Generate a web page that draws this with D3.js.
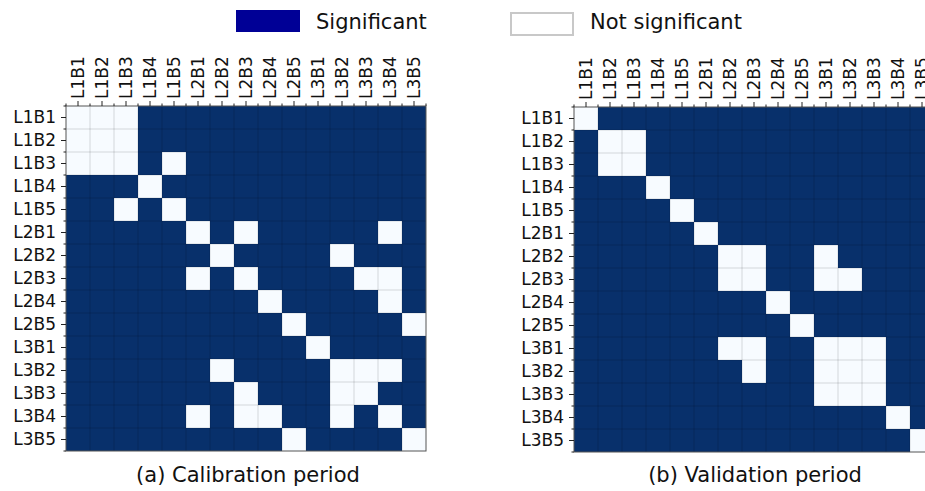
<!DOCTYPE html>
<html>
<head>
<meta charset="utf-8">
<script src="https://cdn.jsdelivr.net/npm/d3@7"></script>
<style>
  body { margin: 0; background: #fff; }
  svg text { font-family: "DejaVu Sans", sans-serif; fill: #111; }
</style>
</head>
<body>
<div class="chart"></div>
<script>
/* Basin labels, same order for rows and columns */
const labels = ["L1B1", "L1B2", "L1B3", "L1B4", "L1B5",
                "L2B1", "L2B2", "L2B3", "L2B4", "L2B5",
                "L3B1", "L3B2", "L3B3", "L3B4", "L3B5"];

/* 1 = significant, 0 = not significant (one row per label) */
const calibration = [
  [0,0,0,1,1,1,1,1,1,1,1,1,1,1,1],
  [0,0,0,1,1,1,1,1,1,1,1,1,1,1,1],
  [0,0,0,1,0,1,1,1,1,1,1,1,1,1,1],
  [1,1,1,0,1,1,1,1,1,1,1,1,1,1,1],
  [1,1,0,1,0,1,1,1,1,1,1,1,1,1,1],
  [1,1,1,1,1,0,1,0,1,1,1,1,1,0,1],
  [1,1,1,1,1,1,0,1,1,1,1,0,1,1,1],
  [1,1,1,1,1,0,1,0,1,1,1,1,0,0,1],
  [1,1,1,1,1,1,1,1,0,1,1,1,1,0,1],
  [1,1,1,1,1,1,1,1,1,0,1,1,1,1,0],
  [1,1,1,1,1,1,1,1,1,1,0,1,1,1,1],
  [1,1,1,1,1,1,0,1,1,1,1,0,0,0,1],
  [1,1,1,1,1,1,1,0,1,1,1,0,0,1,1],
  [1,1,1,1,1,0,1,0,0,1,1,0,1,0,1],
  [1,1,1,1,1,1,1,1,1,0,1,1,1,1,0]
];

const validation = [
  [0,1,1,1,1,1,1,1,1,1,1,1,1,1,1],
  [1,0,0,1,1,1,1,1,1,1,1,1,1,1,1],
  [1,0,0,1,1,1,1,1,1,1,1,1,1,1,1],
  [1,1,1,0,1,1,1,1,1,1,1,1,1,1,1],
  [1,1,1,1,0,1,1,1,1,1,1,1,1,1,1],
  [1,1,1,1,1,0,1,1,1,1,1,1,1,1,1],
  [1,1,1,1,1,1,0,0,1,1,0,1,1,1,1],
  [1,1,1,1,1,1,0,0,1,1,0,0,1,1,1],
  [1,1,1,1,1,1,1,1,0,1,1,1,1,1,1],
  [1,1,1,1,1,1,1,1,1,0,1,1,1,1,1],
  [1,1,1,1,1,1,0,0,1,1,0,0,0,1,1],
  [1,1,1,1,1,1,1,0,1,1,0,0,0,1,1],
  [1,1,1,1,1,1,1,1,1,1,0,0,0,1,1],
  [1,1,1,1,1,1,1,1,1,1,1,1,1,0,1],
  [1,1,1,1,1,1,1,1,1,1,1,1,1,1,0]
];

const captions = ["(a) Calibration period", "(b) Validation period"];
const legendItems = ["Significant", "Not significant"];

const w = 925, h = 491;
const darkBlue = "#08306b", paleBlue = "#f7fbff";
const tickFont = 17;

const svg = d3.select(".chart").append("svg")
  .attr("width", w).attr("height", h);

/* Legend */
const legend = svg.append("g");
legend.append("rect").attr("x", 236).attr("y", 10).attr("width", 64).attr("height", 22)
  .attr("fill", "#000096");
legend.append("text").attr("x", 316).attr("y", 29).attr("font-size", 21).text(legendItems[0]);
legend.append("rect").attr("x", 511).attr("y", 13).attr("width", 62).attr("height", 22)
  .attr("fill", "#fff").attr("stroke", "#c8c8c8").attr("stroke-width", 2);
legend.append("text").attr("x", 590).attr("y", 29).attr("font-size", 21).text(legendItems[1]);

/* One heatmap panel */
function drawPanel(matrix, left, top, caption, captionX) {
  const cellW = 24, cellH = 23;
  const x = d3.scaleBand().domain(labels).range([left, left + cellW * labels.length]);
  const y = d3.scaleBand().domain(labels).range([top, top + cellH * labels.length]);
  const g = svg.append("g");

  const cells = [];
  matrix.forEach((row, i) => row.forEach((v, j) => cells.push({r: labels[i], c: labels[j], v: v})));

  g.selectAll("rect.cell").data(cells).enter().append("rect")
    .attr("class", "cell")
    .attr("x", d => x(d.c)).attr("y", d => y(d.r))
    .attr("width", x.bandwidth()).attr("height", y.bandwidth())
    .attr("fill", d => d.v ? darkBlue : paleBlue);

  /* grid on cell boundaries */
  const bounds = d3.range(1, labels.length);
  g.selectAll("line.vgrid").data(bounds).enter().append("line")
    .attr("x1", k => left + k * cellW).attr("x2", k => left + k * cellW)
    .attr("y1", top).attr("y2", y.range()[1])
    .attr("stroke", "#000").attr("stroke-opacity", 0.14).attr("stroke-width", 1);
  g.selectAll("line.hgrid").data(bounds).enter().append("line")
    .attr("y1", k => top + k * cellH).attr("y2", k => top + k * cellH)
    .attr("x1", left).attr("x2", x.range()[1])
    .attr("stroke", "#000").attr("stroke-opacity", 0.14).attr("stroke-width", 1);

  /* frame */
  g.append("rect").attr("x", left).attr("y", top)
    .attr("width", x.range()[1] - left).attr("height", y.range()[1] - top)
    .attr("fill", "none").attr("stroke", "#555").attr("stroke-width", 1);

  /* minor ticks at boundaries */
  const allB = d3.range(0, labels.length + 1);
  g.selectAll("line.mtx").data(allB).enter().append("line")
    .attr("x1", k => left + k * cellW).attr("x2", k => left + k * cellW)
    .attr("y1", top).attr("y2", top - 2.5).attr("stroke", "#222");
  g.selectAll("line.mty").data(allB).enter().append("line")
    .attr("y1", k => top + k * cellH).attr("y2", k => top + k * cellH)
    .attr("x1", left).attr("x2", left - 2.5).attr("stroke", "#222");

  /* axes */
  const yAxis = d3.axisLeft(y).tickSize(5).tickSizeOuter(0).tickPadding(5);
  const gy = g.append("g").attr("transform", "translate(" + left + ",0)").call(yAxis);
  gy.select(".domain").remove();
  gy.selectAll("text").attr("font-size", tickFont).attr("font-family", "DejaVu Sans").attr("fill", "#111");
  gy.selectAll("line").attr("stroke", "#222");

  const xAxis = d3.axisTop(x).tickSize(5).tickSizeOuter(0);
  const gx = g.append("g").attr("transform", "translate(0," + top + ")").call(xAxis);
  gx.select(".domain").remove();
  gx.selectAll("text")
    .attr("transform", "rotate(-90)")
    .attr("x", 7).attr("y", 0).attr("dy", "0.35em")
    .style("text-anchor", "start")
    .attr("font-size", tickFont).attr("font-family", "DejaVu Sans").attr("fill", "#111");
  gx.selectAll("line").attr("stroke", "#222");

  svg.append("text").attr("x", captionX).attr("y", 482)
    .attr("text-anchor", "middle").attr("font-size", 21).text(caption);
}

drawPanel(calibration, 66, 106, captions[0], 248);
drawPanel(validation, 574, 107, captions[1], 755);
</script>
</body>
</html>
